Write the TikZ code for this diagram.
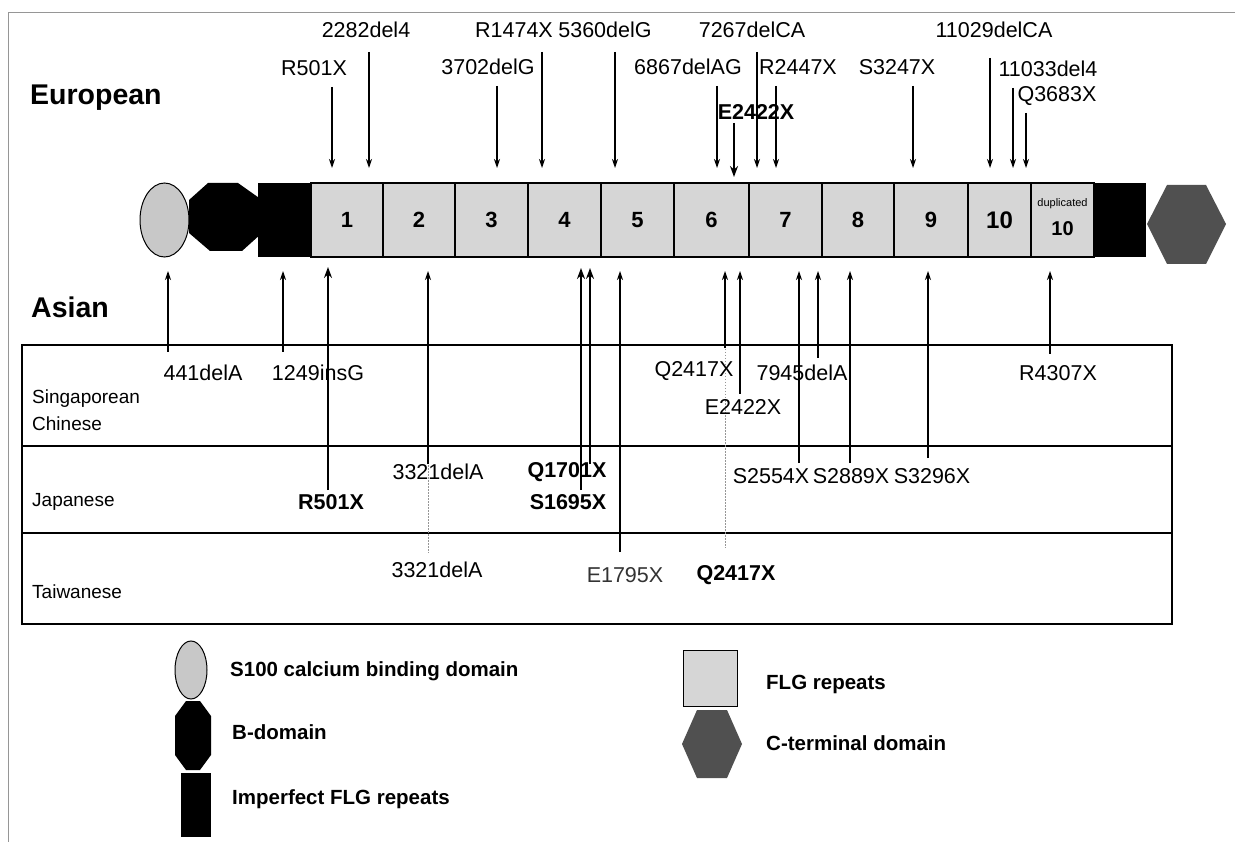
\documentclass[tikz,border=0pt]{standalone}
\usepackage{fontspec}
\setmainfont{Liberation Sans}
\usetikzlibrary{arrows.meta,shapes.geometric}
\definecolor{repgray}{RGB}{214,214,214}
\definecolor{ellgray}{RGB}{200,200,200}
\definecolor{hexgray}{RGB}{80,80,80}
\definecolor{framegray}{RGB}{150,150,150}
\newcommand\mutarr[5]{\coordinate (#1a) at (#2,#3); \coordinate (#1b) at (#2,#4); \draw[#5] (#1a) -- (#1b);}
\begin{document}
\begin{tikzpicture}[x=1pt,y=-1pt,
  lab/.style={font=\fontsize{21.5}{24}\selectfont, inner sep=0pt},
  labb/.style={font=\bfseries\fontsize{21.5}{24}\selectfont, inner sep=0pt},
  big/.style={font=\bfseries\fontsize{28.5}{30}\selectfont, inner sep=0pt, anchor=west},
  pop/.style={font=\fontsize{19}{22}\selectfont, inner sep=0pt, anchor=west},
  leg/.style={font=\bfseries\fontsize{20.5}{23}\selectfont, inner sep=0pt, anchor=west},
  rep/.style={draw=black, line width=1.2pt, fill=repgray, minimum width=#1, minimum height=74pt, inner sep=0pt, font=\bfseries\fontsize{22}{24}\selectfont},
  arr/.style={line width=1.2pt, -{Stealth[length=9pt,width=6pt]}},
  arrk/.style={line width=2.2pt, -{Stealth[length=11pt,width=8pt]}},
  dots/.style={framegray, line width=0.8pt, dash pattern=on 1.5pt off 1.5pt},
]
\useasboundingbox (0,0) rectangle (1235,842);
\fill[white] (0,0) rectangle (1235,842);
% frame
\draw[framegray, line width=1pt] (8,842) -- (8,12.5) -- (1235,12.5);

% ---------- protein bar ----------
\fill[black] (189,200) -- (208,183) -- (238,183) -- (262,200) -- (262,233) -- (242,251) -- (210,251) -- (189,233) -- cycle;
\node[draw, line width=1pt, ellipse, fill=ellgray, minimum width=49pt, minimum height=74pt, inner sep=0pt] (s100) at (164.5,220) {};
\fill[black] (258,183) rectangle (311,257);
\node[rep=72pt] (r1) at (347,220) {1};
\node[rep=72pt] (r2) at (419,220) {2};
\node[rep=73pt] (r3) at (491.5,220) {3};
\node[rep=73pt] (r4) at (564.5,220) {4};
\node[rep=73pt] (r5) at (637.5,220) {5};
\node[rep=75pt] (r6) at (711.5,220) {6};
\node[rep=73pt] (r7) at (785.5,220) {7};
\node[rep=72pt] (r8) at (858,220) {8};
\node[rep=74pt] (r9) at (931,220) {9};
\node[rep=63pt, font=\bfseries\fontsize{24}{26}\selectfont] (r10) at (999.5,220) {10};
\node[rep=63pt] (rdup) at (1062.5,220) {};
\node[font=\fontsize{11}{12}\selectfont, inner sep=0pt] (duptxt) at (1062.5,204) {duplicated};
\node[font=\bfseries\fontsize{20}{22}\selectfont, inner sep=0pt] (dupnum) at (1062.5,229) {10};
\fill[black] (1094,183) rectangle (1146,257);
\fill[hexgray] (1147,224) -- (1167,185) -- (1206,185) -- (1226,224) -- (1206,264) -- (1167,264) -- cycle;

% ---------- European ----------
\node[big] (eur) at (30,98) {European};
\node[lab] (l2282) at (366,30) {2282del4};
\node[lab] (l1474) at (514,30) {R1474X};
\node[lab] (l5360) at (605,30) {5360delG};
\node[lab] (l7267) at (752,30) {7267delCA};
\node[lab] (l11029) at (994,30) {11029delCA};
\node[lab] (lR501) at (314,68) {R501X};
\node[lab] (l3702) at (488,67) {3702delG};
\node[lab] (l6867) at (688,67) {6867delAG};
\node[lab] (lR2447) at (798,67) {R2447X};
\node[lab] (lS3247) at (897,67) {S3247X};
\node[lab] (l11033) at (1048,69) {11033del4};
\node[lab] (lQ3683) at (1057,96) {Q3683X};
\node[labb] (lE2422) at (756,112) {E2422X};

\mutarr{eA}{369}{52}{168}{arr}
\mutarr{eB}{542}{52}{168}{arr}
\mutarr{eC}{615}{52}{168}{arr}
\mutarr{eD}{757}{52}{168}{arr}
\mutarr{eE}{990}{58}{168}{arr}
\mutarr{eF}{332}{87}{168}{arr}
\mutarr{eG}{497}{86}{168}{arr}
\mutarr{eH}{717}{86}{168}{arr}
\mutarr{eI}{776}{86}{168}{arr}
\mutarr{eJ}{913}{86}{168}{arr}
\mutarr{eK}{1013}{88}{168}{arr}
\mutarr{eL}{1026}{113}{168}{arr}
\mutarr{eM}{734}{123}{177}{arrk}

% ---------- Asian ----------
\node[big] (asi) at (31,307) {Asian};
\draw[line width=1.3pt] (22,345) rectangle (1172,624);
\draw[line width=1.3pt] (22,446) -- (1172,446);
\draw[line width=1.3pt] (22,533) -- (1172,533);
\node[pop] (sing1) at (32,399) {Singaporean};
\node[pop] (sing2) at (32,424) {Chinese};
\node[pop] (jap) at (32,502) {Japanese};
\node[pop] (tai) at (32,592) {Taiwanese};

\draw[dots] (428,462) -- (428,553);
\draw[dots] (725,349) -- (725,548);

\node[lab] (s441) at (203,373) {441delA};
\node[lab] (s1249) at (318,373) {1249insG};
\node[lab] (sQ2417) at (694,371) {Q2417X};
\node[lab] (s7945) at (802,373) {7945delA};
\node[lab] (sR4307) at (1058,373) {R4307X};
\node[lab] (sE2422) at (743,407) {E2422X};

\node[lab] (j3321) at (438,472) {3321delA};
\node[labb] (jQ1701) at (567,472) {Q1701X};
\node[lab] (jS2554) at (771,476) {S2554X};
\node[lab] (jS2889) at (851,476) {S2889X};
\node[lab] (jS3296) at (932,476) {S3296X};
\node[labb] (jR501) at (331,502) {R501X};
\node[labb] (jS1695) at (568,502) {S1695X};

\node[lab] (t3321) at (437,570) {3321delA};
\node[lab, text=black!80] (tE1795) at (625,575) {E1795X};
\node[labb] (tQ2417) at (736,575) {Q2417X};

\mutarr{a1}{168}{352}{271}{arr}
\mutarr{a2}{283}{352}{271}{arr}
\mutarr{a3}{328}{490}{267}{arrk}
\mutarr{a4}{428}{464}{271}{arr}
\mutarr{a5}{581}{490}{268}{arrk}
\mutarr{a6}{590}{464}{268}{arrk}
\mutarr{a7}{620}{552}{271}{arr}
\mutarr{a8}{725}{348}{271}{arr}
\mutarr{a9}{740}{394}{271}{arr}
\mutarr{a10}{799}{463}{271}{arr}
\mutarr{a11}{818}{358}{271}{arr}
\mutarr{a12}{850}{463}{271}{arr}
\mutarr{a13}{928}{458}{271}{arr}
\mutarr{a14}{1050}{354}{271}{arr}

% ---------- legend ----------
\node[draw, line width=1pt, ellipse, fill=ellgray, minimum width=32pt, minimum height=58pt, inner sep=0pt] (legell) at (191,670) {};
\fill[black] (175,716) -- (186,701) -- (200,701) -- (211,716) -- (211,755) -- (200,770) -- (186,770) -- (175,755) -- cycle;
\fill[black] (181,773) rectangle (211,837);
\node[draw, line width=0.8pt, fill=repgray, minimum width=54pt, minimum height=56pt, inner sep=0pt] (legrep) at (710,678) {};
\fill[hexgray] (682,744) -- (697,710) -- (727,710) -- (742,744) -- (727,778) -- (697,778) -- cycle;
\node[leg] (t1) at (230,671) {S100 calcium binding domain};
\node[leg] (t2) at (232,732) {B-domain};
\node[leg] (t3) at (232,799) {Imperfect FLG repeats};
\node[leg] (t4) at (766,684) {FLG repeats};
\node[leg] (t5) at (766,743) {C-terminal domain};
\end{tikzpicture}
\end{document}
